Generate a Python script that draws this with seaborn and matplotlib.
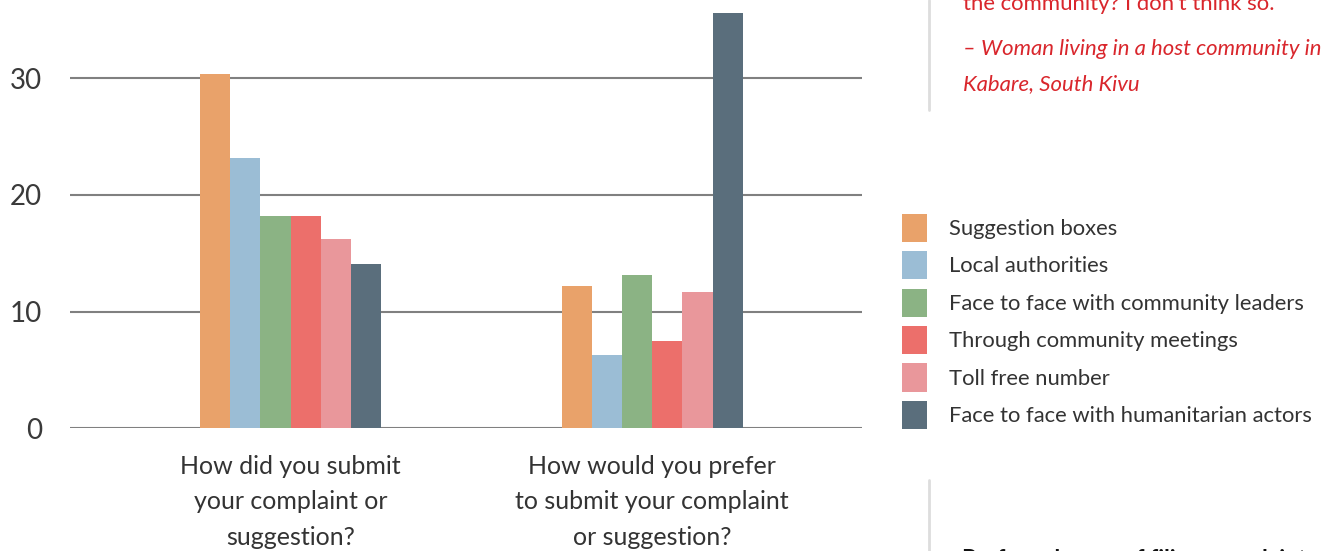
import pandas as pd
import matplotlib.pyplot as plt
import seaborn as sns

# ==============================
# DATA
# ==============================

questions = [
    "How did you submit\nyour complaint or\nsuggestion?",
    "How would you prefer\nto submit your complaint\nor suggestion?",
]
channels = [
    "Suggestion boxes",
    "Local authorities",
    "Face to face with community leaders",
    "Through community meetings",
    "Toll free number",
    "Face to face with humanitarian actors",
]
did_submit = [30.4, 23.2, 18.2, 18.2, 16.2, 14.1]
would_prefer = [12.2, 6.3, 13.1, 7.5, 11.7, 35.6]
colors = ["#E9A26A", "#9BBDD5", "#8BB384", "#EC6F6B", "#E9979B", "#5A6E7C"]

df = pd.DataFrame({
    "question": [questions[0]] * 6 + [questions[1]] * 6,
    "channel": channels * 2,
    "pct": did_submit + would_prefer,
})

# ==============================
# PLOT
# ==============================

sns.set_style("white")
plt.rcParams["font.family"] = ["Lato", "DejaVu Sans"]

fig = plt.figure(figsize=(13.22, 5.51), dpi=100)
ax = fig.add_axes([70 / 1322, 1 - 428.3 / 551, 792 / 1322, 428.3 / 551])

sns.barplot(data=df, x="question", y="pct", hue="channel", hue_order=channels,
            palette=colors, width=0.5, saturation=1, linewidth=0, ax=ax, legend=True)

ax.set_ylim(0, 36.7)
ax.set_xlim(-0.61, 1.58)
ax.set_yticks([0, 10, 20, 30])
ax.yaxis.grid(True, color="#808080", linewidth=1.5)
ax.set_axisbelow(True)
sns.despine(ax=ax, left=True, bottom=True, top=True, right=True)
ax.tick_params(axis="y", length=0, pad=20, labelsize=20, labelcolor="#3a3a3a")
ax.tick_params(axis="x", length=0, pad=19, labelsize=18, labelcolor="#333333")
for lab in ax.get_xticklabels():
    lab.set_linespacing(1.66)
ax.set_xlabel("")
ax.set_ylabel("")

handles, labels = ax.get_legend_handles_labels()
ax.get_legend().remove()
fig.legend(handles, labels, loc="upper left", bbox_to_anchor=(882 / 1322, 1 - 194 / 551),
           frameon=False, fontsize=15.8, handlelength=1.14, handleheight=1.6,
           labelspacing=0.42, handletextpad=1.0, labelcolor="#333333")

# quote text and side rules
red = "#D9262C"
fig.text(963 / 1322, 1 - 10 / 551, "the community? I don't think so.", color=red,
         fontsize=15.9, va="baseline")
fig.text(963 / 1322, 1 - 55 / 551, "– Woman living in a host community in", color=red,
         fontsize=15.9, style="italic", va="baseline")
fig.text(963 / 1322, 1 - 90 / 551, "Kabare, South Kivu", color=red,
         fontsize=15.9, style="italic", va="baseline")
fig.text(962 / 1322, 1 - 566 / 551, "Preferred ways of filing complaints", color="#111111",
         fontsize=16.5, fontweight="bold", va="baseline")

fig.add_artist(plt.Line2D([929 / 1322, 929 / 1322], [1, 1 - 110 / 551],
                          color="#dddddd", linewidth=2))
fig.add_artist(plt.Line2D([929 / 1322, 929 / 1322], [1 - 480 / 551, 0],
                          color="#dddddd", linewidth=2))

fig.savefig("out.png", dpi=100)
plt.close(fig)
